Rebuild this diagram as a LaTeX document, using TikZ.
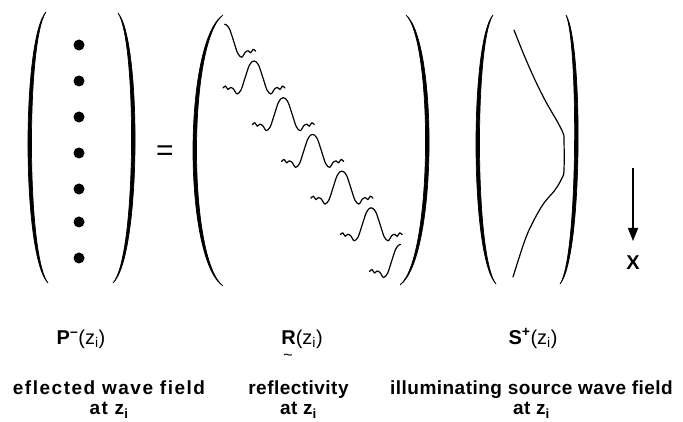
\documentclass[tikz,border=0pt]{standalone}
\usepackage{fontspec}
\setmainfont{Liberation Sans}
\usetikzlibrary{arrows.meta}

% tall round bracket: top x, top y, middle x, bottom x, bottom y, thickness
\newcommand{\bigparen}[6]{%
  \filldraw[line width=0.7pt] (#1,#2)
    .. controls ({(#3-(#1+#4)/8)/0.75},{#2+0.1*(#5-#2)}) and ({(#3-(#1+#4)/8)/0.75},{#5-0.1*(#5-#2)}) .. (#4,#5)
    .. controls ({(#3+#6-(#1+#4)/8)/0.75},{#5-0.1*(#5-#2)}) and ({(#3+#6-(#1+#4)/8)/0.75},{#2+0.1*(#5-#2)}) .. (#1,#2) -- cycle;}

\begin{document}
\begin{tikzpicture}[x=1pt, y=-1pt,
    wave/.style={line width=1.2pt, line join=round, line cap=round},
    lbl/.style={anchor=base, inner sep=0, font=\fontsize{20}{22}\selectfont},
    desc/.style={anchor=north, inner sep=0, align=center, font=\bfseries\fontsize{19}{20}\selectfont\addfontfeature{LetterSpace=2.5}}]
    \useasboundingbox (0,0) rectangle (683,422);

    % P^- column
    \bigparen{46}{12}{28}{48}{283}{3.5}
    \bigparen{118}{13}{135}{113}{283}{-3.5}
    \foreach \y in {45,81,117,153,189,222,258}
        \fill (79,\y) circle (5.5pt);

    \node (eq) at (165,153) {\fontsize{30}{30}\selectfont =};

    % R matrix with wavelets on the diagonal
    \bigparen{223}{15}{193}{223}{286}{3.5}
    \bigparen{406}{15}{429}{400}{285}{-3.5}
    \draw[wave, shift={(224.7,24.3)}] plot[smooth] coordinates {(0,0) (2,0.8) (5,5) (9,17) (13,29) (17,33) (20.5,28) (23.5,26.5) (26,28.5) (28.5,25) (31,27)};
    \foreach \k in {0,...,4}
        \draw[wave, shift={(254+29.3*\k,61+36.7*\k)}] plot[smooth] coordinates {(-31,27) (-28.5,25) (-26,28.5) (-23.5,26.5) (-20.5,28) (-17,33) (-13,29) (-9,17) (-5,5) (-2,0.8) (0,0) (2,0.8) (5,5) (9,17) (13,29) (17,33) (20.5,28) (23.5,26.5) (26,28.5) (28.5,25) (31,27)};
    \draw[wave, shift={(400.5,244.5)}] plot[smooth] coordinates {(-31,27) (-28.5,25) (-26,28.5) (-23.5,26.5) (-20.5,28) (-17,33) (-13,29) (-9,17) (-5,5) (-2,0.8) (0,0)};

    % S^+ column
    \bigparen{493}{15}{476}{496}{284}{3.5}
    \bigparen{566}{15}{578}{560}{284}{-3.5}
    \draw[wave] plot[smooth, tension=0.6] coordinates {(514,30) (524,55) (535,80) (546,102) (557,121) (563,133) (564,140) (564,170) (562,178) (555,190) (544,203) (534,220) (525,240) (513,277)};

    % depth axis
    \node[anchor=north, inner sep=0] (xlab) at (633,256) {\bfseries\fontsize{20}{20}\selectfont X};
    \coordinate (xtop) at (633,168);
    \draw[-{Triangle[length=13pt,width=10pt]}, line width=1.5pt, shorten >=15pt] (xtop) -- (xlab.north);

    % labels
    \node[lbl] (lblP) at (81,344) {\textbf{P}\textsuperscript{\textbf{--}}(z\textsubscript{i})};
    \node[lbl] (lblR) at (302,344) {\textbf{R}(z\textsubscript{i})};
    \node[inner sep=0, font=\fontsize{16}{16}\selectfont] (tilR) at (288,357) {\textasciitilde};
    \node[lbl] (lblS) at (533,344) {\textbf{S}\textsuperscript{\textbf{+}}(z\textsubscript{i})};

    \node[desc, font=\bfseries\fontsize{19}{20}\selectfont\addfontfeature{LetterSpace=8}] (descP) at (109,381) {eflected wave field\\at z\textsubscript{i}};
    \node[desc] (descR) at (298.5,381) {reflectivity\\at z\textsubscript{i}};
    \node[desc] (descS) at (531.5,381) {illuminating source wave field\\at z\textsubscript{i}};
\end{tikzpicture}
\end{document}
